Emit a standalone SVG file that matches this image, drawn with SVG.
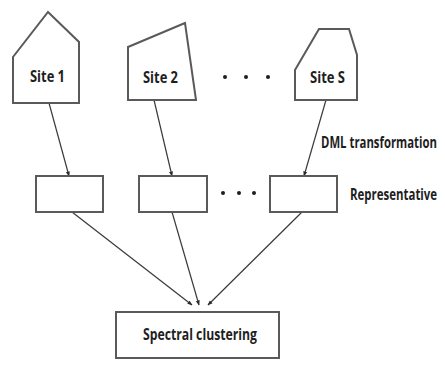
<svg xmlns="http://www.w3.org/2000/svg" width="445" height="365" viewBox="0 0 445 365">
  <style>
    .shape { fill: #ffffff; stroke: #5a5a5a; stroke-width: 2; stroke-linejoin: miter; }
    .edge { fill: none; stroke: #3a3a3a; stroke-width: 1.2; marker-end: url(#arrow); }
    .lbl { font-family: "Liberation Sans Narrow", "Open Sans", "Liberation Sans", sans-serif; font-weight: bold; font-size: 16px; fill: #1e1e1e; }
    .dot { fill: #1e1e1e; }
  </style>
  <defs>
    <marker id="arrow" viewBox="0 0 10 10" refX="9" refY="5" markerWidth="5" markerHeight="5" orient="auto" markerUnits="userSpaceOnUse">
      <path d="M0,1 L10,5 L0,9 Z" fill="#2a2a2a"/>
    </marker>
  </defs>
  <rect width="445" height="365" fill="#ffffff"/>

  <!-- connectors -->
  <g id="connectors">
    <line class="edge" x1="49" y1="103" x2="69" y2="176"/>
    <line class="edge" x1="154" y1="100" x2="172" y2="176"/>
    <line class="edge" x1="326" y1="100" x2="304" y2="176"/>
    <line class="edge" x1="72" y1="212" x2="192" y2="305"/>
    <line class="edge" x1="172" y1="212" x2="199" y2="305"/>
    <line class="edge" x1="302" y1="212" x2="208" y2="305"/>
  </g>

  <!-- sites -->
  <g id="site1">
    <path class="shape" d="M48,12 L79,42 L79,103 L13,103 L13,57 Z"/>
    <text class="lbl" x="30" y="82" textLength="35" lengthAdjust="spacingAndGlyphs">Site 1</text>
  </g>
  <g id="site2">
    <path class="shape" d="M128,47 L185,23 L196,100 L128,100 Z"/>
    <text class="lbl" x="143" y="83" textLength="35" lengthAdjust="spacingAndGlyphs">Site 2</text>
  </g>
  <g id="siteS">
    <path class="shape" d="M319,29 L349,29 L357,55 L357,100 L295,100 L295,70 Z"/>
    <text class="lbl" x="310" y="83" textLength="35" lengthAdjust="spacingAndGlyphs">Site S</text>
  </g>
  <g id="dots-top">
    <circle class="dot" cx="225" cy="77" r="2"/>
    <circle class="dot" cx="246" cy="77" r="2"/>
    <circle class="dot" cx="268" cy="77" r="2"/>
  </g>

  <!-- representatives -->
  <g id="rep1">
    <rect class="shape" x="36" y="176" width="67" height="36"/>
  </g>
  <g id="rep2">
    <rect class="shape" x="139" y="176" width="68" height="36"/>
  </g>
  <g id="repS">
    <rect class="shape" x="270" y="176" width="67" height="36"/>
  </g>
  <g id="dots-mid">
    <circle class="dot" cx="223" cy="193" r="2"/>
    <circle class="dot" cx="239" cy="193" r="2"/>
    <circle class="dot" cx="254" cy="193" r="2"/>
  </g>

  <!-- side labels, horizontally condensed -->
  <g transform="translate(321,148) scale(0.72,1)">
    <text class="lbl" x="0" y="0" textLength="161" lengthAdjust="spacingAndGlyphs">DML transformation</text>
  </g>
  <g transform="translate(350,200) scale(0.72,1)">
    <text class="lbl" x="0" y="0" textLength="121" lengthAdjust="spacingAndGlyphs">Representative</text>
  </g>

  <!-- clustering -->
  <g id="spectral">
    <rect class="shape" x="116" y="312" width="163" height="46"/>
    <text class="lbl" x="143" y="340" textLength="114" lengthAdjust="spacingAndGlyphs">Spectral clustering</text>
  </g>
</svg>
